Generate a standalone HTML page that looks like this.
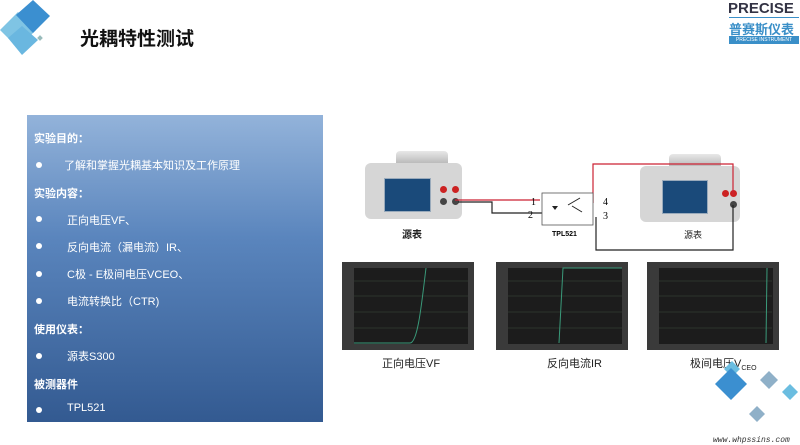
<!DOCTYPE html>
<html><head><meta charset="utf-8"><style>
body{margin:0;width:800px;height:445px;background:#fff;position:relative;overflow:hidden;font-family:"Liberation Sans","Noto Sans CJK SC",sans-serif}
.a{position:absolute}
.panel{left:27px;top:115px;width:296px;height:307px;background:linear-gradient(#93b3da,#5a85bd 40%,#335a91)}
.t{position:absolute;color:#fff;font-size:11px;white-space:nowrap}
.bl{position:absolute;width:6px;height:6px;border-radius:50%;background:#fff}
.b{font-weight:bold}
.g{position:absolute;background:#1c1c1c;border:6px solid #3a3a3a;border-left-width:12px;border-bottom-width:6px;box-sizing:border-box;width:132px;height:88px;top:262px}
.gl{position:absolute;font-size:11px;color:#222;top:355px}
.inst{position:absolute;background:linear-gradient(#e8e8e8,#bbb);border-radius:6px}
.scr{position:absolute;background:#1a4a7a;border:1px solid #9ab}
</style></head><body>
<svg class="a" style="left:0;top:0" width="60" height="60"><polygon points="0,30 18,12 36,30 18,48" fill="#7fc4e4"/><polygon points="16,15 33,0 50,16 33,33" fill="#3b8fd0"/><polygon points="8,38 22,26 38,40 22,55" fill="#6ab7e0"/><rect x="38" y="36" width="4" height="4" fill="#9bb" transform="rotate(45 40 38)"/></svg>
<div class="a" style="left:80px;top:24px;font-size:19px;font-weight:bold;color:#111">光耦特性测试</div>
<div class="a" style="left:728px;top:0px;font-size:15px;font-weight:bold;color:#334">PRECISE</div>
<div class="a" style="left:729px;top:17px;width:70px;height:1px;background:#3a8fc8"></div>
<div class="a" style="left:729px;top:19px;font-size:13px;font-weight:bold;color:#3a8fc8">普赛斯仪表</div>
<div class="a" style="left:729px;top:36px;width:70px;height:8px;background:#3a8fc8;color:#fff;font-size:5px;line-height:8px;text-align:center">PRECISE INSTRUMENT</div>

<div class="a panel"></div>
<div class="t b" style="left:34px;top:130px">实验目的：</div>
<div class="bl" style="left:36px;top:162px"></div><div class="t" style="left:64px;top:157px">了解和掌握光耦基本知识及工作原理</div>
<div class="t b" style="left:34px;top:185px">实验内容：</div>
<div class="bl" style="left:36px;top:216px"></div><div class="t" style="left:67px;top:212px">正向电压VF、</div>
<div class="bl" style="left:36px;top:243px"></div><div class="t" style="left:67px;top:239px">反向电流（漏电流）IR、</div>
<div class="bl" style="left:36px;top:271px"></div><div class="t" style="left:67px;top:266px">C极 - E极间电压VCEO、</div>
<div class="bl" style="left:36px;top:298px"></div><div class="t" style="left:67px;top:293px">电流转换比（CTR)</div>
<div class="t b" style="left:34px;top:321px">使用仪表：</div>
<div class="bl" style="left:36px;top:353px"></div><div class="t" style="left:67px;top:348px">源表S300</div>
<div class="t b" style="left:34px;top:376px">被测器件</div>
<div class="bl" style="left:36px;top:407px"></div><div class="t" style="left:67px;top:402px">TPL521</div>

<div class="inst" style="left:396px;top:151px;width:52px;height:12px;border-radius:4px 4px 0 0"></div>
<div class="inst" style="left:365px;top:163px;width:97px;height:56px;background:#d6d6d6"></div>
<div class="scr" style="left:384px;top:178px;width:45px;height:32px"></div>
<div class="a" style="left:440px;top:186px;width:7px;height:7px;border-radius:50%;background:#c22"></div>
<div class="a" style="left:452px;top:186px;width:7px;height:7px;border-radius:50%;background:#c22"></div>
<div class="a" style="left:440px;top:198px;width:7px;height:7px;border-radius:50%;background:#444"></div>
<div class="a" style="left:452px;top:198px;width:7px;height:7px;border-radius:50%;background:#444"></div>
<div class="a" style="left:402px;top:226px;font-size:10px;font-weight:bold;color:#222">源表</div>

<div class="inst" style="left:669px;top:154px;width:52px;height:12px;border-radius:4px 4px 0 0"></div>
<div class="inst" style="left:640px;top:166px;width:100px;height:56px;background:#d6d6d6"></div>
<div class="scr" style="left:662px;top:180px;width:44px;height:32px"></div>
<div class="a" style="left:722px;top:190px;width:7px;height:7px;border-radius:50%;background:#c22"></div>
<div class="a" style="left:730px;top:190px;width:7px;height:7px;border-radius:50%;background:#c22"></div>
<div class="a" style="left:730px;top:201px;width:7px;height:7px;border-radius:50%;background:#444"></div>
<div class="a" style="left:684px;top:228px;font-size:9px;color:#222">源表</div>

<svg class="a" style="left:0;top:0" width="800" height="445">
<polyline points="458,202 492,202 492,213 542,213" fill="none" stroke="#222" stroke-width="1.2"/>
<line x1="455" y1="200" x2="540" y2="200" stroke="#c23" stroke-width="1.2"/>
<polyline points="593,203 593,164 733,164 733,195" fill="none" stroke="#c23" stroke-width="1.2"/>
<polyline points="596,217 596,250 733,250 733,205" fill="none" stroke="#222" stroke-width="1.2"/>
<rect x="542" y="193" width="51" height="32" fill="#fff" stroke="#555" stroke-width="0.8"/>
<polygon points="552,206 558,206 555,210" fill="#222"/>
<line x1="568" y1="205" x2="580" y2="198" stroke="#222"/><line x1="572" y1="206" x2="582" y2="212" stroke="#222"/>
<text x="531" y="205" font-size="10" font-family="Liberation Serif">1</text>
<text x="528" y="218" font-size="10" font-family="Liberation Serif">2</text>
<text x="603" y="205" font-size="10" font-family="Liberation Serif">4</text>
<text x="603" y="219" font-size="10" font-family="Liberation Serif">3</text>
<text x="552" y="236" font-size="7" font-weight="bold" font-family="Liberation Sans">TPL521</text>
</svg>

<div class="g" style="left:342px"></div>
<div class="g" style="left:496px"></div>
<div class="g" style="left:647px"></div>
<svg class="a" style="left:0;top:0" width="800" height="445">
<g stroke="#3a4a3a" stroke-width="0.6">
<line x1="354" y1="281" x2="468" y2="281"/><line x1="354" y1="296" x2="468" y2="296"/><line x1="354" y1="312" x2="468" y2="312"/><line x1="354" y1="328" x2="468" y2="328"/>
<line x1="508" y1="281" x2="622" y2="281"/><line x1="508" y1="296" x2="622" y2="296"/><line x1="508" y1="312" x2="622" y2="312"/><line x1="508" y1="328" x2="622" y2="328"/>
<line x1="659" y1="281" x2="772" y2="281"/><line x1="659" y1="296" x2="772" y2="296"/><line x1="659" y1="312" x2="772" y2="312"/><line x1="659" y1="328" x2="772" y2="328"/>
</g>
<path d="M354,343 L410,343 C418,343 422,300 426,268" stroke="#3a9a7a" fill="none"/>
<path d="M559,343 L563,268 L622,268" stroke="#3a9a7a" fill="none"/>
<path d="M766,343 L767,268" stroke="#3a9a7a" fill="none"/>
</svg>
<div class="gl" style="left:382px">正向电压VF</div>
<div class="gl" style="left:547px">反向电流IR</div>
<div class="gl" style="left:690px">极间电压V<sub style="font-size:7px">CEO</sub></div>

<svg class="a" style="left:700px;top:360px" width="100" height="85"><polygon points="48,75 0,75" fill="none"/>
<polygon points="44,38 60,54 44,70 28,54" fill="none"/>
<polygon points="32,1 40,9 32,17 24,9" fill="#6bbde0"/><polygon points="31,8 47,24 31,40 15,24" fill="#3b8fd0"/><polygon points="69,11 78,20 69,29 60,20" fill="#8fb0c8"/><polygon points="90,24 98,32 90,40 82,32" fill="#6bbde0"/><polygon points="57,46 65,54 57,62 49,54" fill="#8fb0c8"/>
<text x="13" y="82" font-size="8" font-style="italic" font-family="Liberation Mono" fill="#333">www.whpssins.com</text></svg>
</body></html>
